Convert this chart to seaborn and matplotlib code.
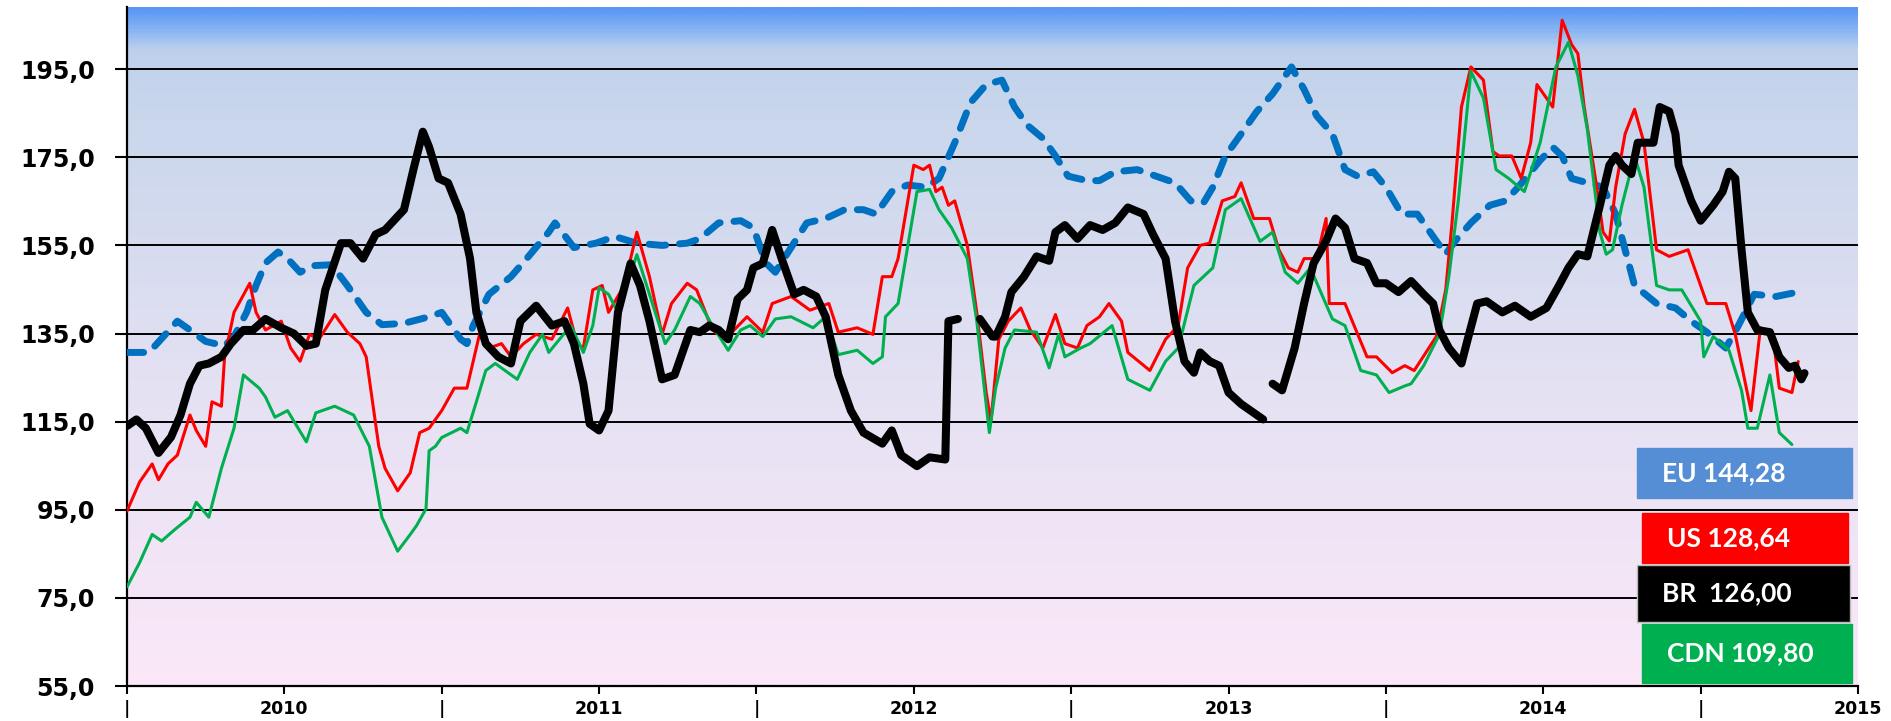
import numpy as np
import pandas as pd
import seaborn as sns
import matplotlib.pyplot as plt
from matplotlib.colors import LinearSegmentedColormap
from matplotlib.patches import Rectangle

#-- Veriler (zaman = ondalik yil)

eu_t = [2009.50, 2009.57, 2009.66, 2009.70, 2009.75, 2009.81, 2009.84, 2009.88, 2009.91, 2009.94,
        2009.98, 2010.01, 2010.05, 2010.09, 2010.15, 2010.20, 2010.26, 2010.31, 2010.38, 2010.46,
        2010.50, 2010.56, 2010.58, 2010.60, 2010.65, 2010.72, 2010.77, 2010.84, 2010.86, 2010.92,
        2010.99, 2011.05, 2011.12, 2011.20, 2011.28, 2011.32, 2011.38, 2011.45, 2011.49, 2011.53,
        2011.56, 2011.61, 2011.66, 2011.72, 2011.78, 2011.84, 2011.88, 2011.93, 2011.98, 2012.04,
        2012.08, 2012.13, 2012.18, 2012.23, 2012.28, 2012.32, 2012.36, 2012.41, 2012.45, 2012.49,
        2012.55, 2012.59, 2012.64, 2012.71, 2012.77, 2012.83, 2012.88, 2012.92, 2012.95, 2012.99,
        2013.04, 2013.09, 2013.14, 2013.20, 2013.24, 2013.28, 2013.33, 2013.37, 2013.41, 2013.46,
        2013.50, 2013.55, 2013.60, 2013.66, 2013.69, 2013.72, 2013.77, 2013.83, 2013.88, 2013.92,
        2013.99, 2014.03, 2014.06, 2014.09, 2014.14, 2014.19, 2014.23, 2014.26, 2014.29, 2014.36,
        2014.42, 2014.47, 2014.52, 2014.58, 2014.62, 2014.67, 2014.74, 2014.80]
eu_v = [130.7, 130.7, 137.8, 135.8, 133.2, 132.2, 134.3, 139.8, 145.9, 151.0,
        153.5, 152.0, 148.9, 150.4, 150.6, 145.9, 139.8, 137.0, 137.3, 138.8,
        139.8, 133.7, 132.7, 136.8, 143.9, 147.9, 152.0, 158.0, 160.1, 154.5,
        155.5, 157.0, 155.5, 155.0, 155.5, 156.5, 160.1, 160.6, 159.0, 151.0,
        148.9, 154.5, 160.1, 161.1, 163.1, 163.1, 162.1, 167.2, 168.7, 168.2,
        170.2, 178.3, 187.4, 191.5, 192.5, 186.4, 182.3, 179.3, 175.3, 170.7,
        169.7, 169.7, 171.7, 172.2, 170.7, 169.2, 165.1, 164.6, 168.2, 175.3,
        180.3, 185.4, 189.4, 195.5, 190.4, 184.4, 180.3, 172.2, 170.7, 171.7,
        168.2, 162.1, 162.1, 156.0, 153.0, 156.0, 160.1, 164.1, 165.1, 168.2,
        174.3, 177.3, 175.3, 170.2, 169.2, 168.2, 162.1, 154.0, 145.9, 141.8,
        140.8, 137.8, 135.3, 131.7, 136.8, 143.9, 143.4, 144.28]

us_t = [2009.50, 2009.54, 2009.58, 2009.60, 2009.63, 2009.66, 2009.70, 2009.72, 2009.75, 2009.77,
        2009.80, 2009.81, 2009.84, 2009.89, 2009.91, 2009.94, 2009.99, 2010.02, 2010.05, 2010.08,
        2010.11, 2010.16, 2010.20, 2010.24, 2010.26, 2010.30, 2010.32, 2010.36, 2010.40, 2010.43,
        2010.46, 2010.50, 2010.54, 2010.58, 2010.61, 2010.62, 2010.65, 2010.69, 2010.72, 2010.76,
        2010.80, 2010.85, 2010.90, 2010.93, 2010.95, 2010.98, 2011.01, 2011.03, 2011.08, 2011.12,
        2011.16, 2011.20, 2011.23, 2011.28, 2011.31, 2011.36, 2011.40, 2011.47, 2011.52, 2011.55,
        2011.61, 2011.67, 2011.73, 2011.76, 2011.82, 2011.87, 2011.90, 2011.93, 2011.95, 2012.00,
        2012.03, 2012.05, 2012.07, 2012.09, 2012.11, 2012.13, 2012.17, 2012.20, 2012.23, 2012.245,
        2012.27, 2012.30, 2012.34, 2012.37, 2012.41, 2012.45, 2012.48, 2012.52, 2012.55, 2012.59,
        2012.62, 2012.66, 2012.68, 2012.75, 2012.80, 2012.84, 2012.87, 2012.91, 2012.94, 2012.98,
        2013.02, 2013.04, 2013.08, 2013.13, 2013.16, 2013.19, 2013.22, 2013.24, 2013.28, 2013.31,
        2013.32, 2013.37, 2013.44, 2013.47, 2013.52, 2013.56, 2013.59, 2013.66, 2013.69, 2013.71,
        2013.74, 2013.77, 2013.81, 2013.84, 2013.86, 2013.90, 2013.93, 2013.96, 2013.98, 2014.03,
        2014.06, 2014.09, 2014.11, 2014.13, 2014.17, 2014.19, 2014.21, 2014.23, 2014.26, 2014.29,
        2014.32, 2014.36, 2014.40, 2014.46, 2014.52, 2014.58, 2014.61, 2014.66, 2014.69, 2014.73,
        2014.75, 2014.79, 2014.81]
us_v = [94.7, 101.3, 105.4, 101.8, 105.4, 107.4, 116.5, 113.0, 109.4, 119.5,
        118.5, 129.7, 139.8, 146.4, 139.8, 135.8, 137.8, 131.7, 128.7, 134.8,
        133.7, 139.3, 135.3, 132.7, 129.7, 109.4, 104.4, 99.3, 103.4, 112.5,
        113.5, 117.5, 122.6, 122.6, 131.7, 134.8, 131.7, 132.7, 129.7, 132.7,
        134.8, 133.7, 140.8, 132.7, 131.7, 144.9, 145.9, 139.8, 145.9, 158.0,
        147.9, 134.8, 141.8, 146.4, 144.9, 135.8, 133.7, 138.8, 135.3, 141.8,
        143.4, 140.3, 141.8, 135.3, 136.3, 134.8, 147.9, 147.9, 152.0, 173.2,
        172.2, 173.2, 167.2, 168.2, 164.1, 165.1, 155.0, 139.8, 121.6, 115.0,
        133.7, 137.8, 140.8, 135.8, 131.7, 139.3, 132.7, 131.7, 136.8, 138.8,
        141.8, 137.8, 130.7, 126.6, 133.7, 136.8, 149.9, 155.0, 155.5, 165.1,
        166.1, 169.2, 161.1, 161.1, 154.0, 149.9, 148.9, 152.0, 152.0, 161.1,
        141.8, 141.8, 129.7, 129.7, 126.1, 127.7, 126.6, 134.3, 144.9, 160.1,
        186.4, 195.5, 192.5, 176.3, 175.3, 175.3, 170.2, 178.3, 191.5, 186.4,
        206.1, 200.6, 198.5, 186.4, 168.2, 158.0, 156.0, 168.2, 180.3, 185.9,
        178.3, 154.0, 152.5, 154.0, 141.8, 141.8, 134.8, 117.5, 136.3, 134.3,
        122.6, 121.6, 128.64]

cdn_t = [2009.50, 2009.54, 2009.58, 2009.61, 2009.65, 2009.70, 2009.72, 2009.76, 2009.80, 2009.84,
         2009.87, 2009.92, 2009.94, 2009.97, 2010.01, 2010.07, 2010.10, 2010.16, 2010.22, 2010.27,
         2010.31, 2010.36, 2010.40, 2010.42, 2010.45, 2010.46, 2010.48, 2010.50, 2010.56, 2010.58,
         2010.61, 2010.64, 2010.67, 2010.74, 2010.78, 2010.82, 2010.84, 2010.91, 2010.95, 2010.98,
         2011.00, 2011.03, 2011.06, 2011.12, 2011.16, 2011.21, 2011.24, 2011.29, 2011.32, 2011.36,
         2011.41, 2011.45, 2011.48, 2011.52, 2011.56, 2011.61, 2011.68, 2011.72, 2011.76, 2011.82,
         2011.87, 2011.90, 2011.91, 2011.95, 2012.01, 2012.05, 2012.08, 2012.12, 2012.17, 2012.20,
         2012.24, 2012.26, 2012.29, 2012.32, 2012.39, 2012.43, 2012.46, 2012.48, 2012.53, 2012.56,
         2012.63, 2012.68, 2012.75, 2012.80, 2012.84, 2012.89, 2012.95, 2012.99, 2013.04, 2013.10,
         2013.14, 2013.18, 2013.22, 2013.26, 2013.29, 2013.33, 2013.37, 2013.42, 2013.47, 2013.51,
         2013.56, 2013.58, 2013.62, 2013.67, 2013.70, 2013.73, 2013.77, 2013.81, 2013.85, 2013.89,
         2013.94, 2013.99, 2014.04, 2014.08, 2014.11, 2014.14, 2014.18, 2014.20, 2014.22, 2014.25,
         2014.29, 2014.32, 2014.36, 2014.40, 2014.44, 2014.50, 2014.51, 2014.54, 2014.59, 2014.63,
         2014.65, 2014.68, 2014.72, 2014.75, 2014.79]
cdn_v = [77.5, 83.0, 89.4, 87.9, 90.4, 93.3, 96.7, 93.3, 104.4, 113.5,
         125.6, 122.6, 120.6, 116.0, 117.5, 110.4, 117.0, 118.5, 116.5, 109.4,
         93.3, 85.6, 89.4, 91.4, 95.2, 108.4, 109.4, 111.4, 113.5, 112.5,
         119.5, 126.6, 128.2, 124.6, 130.7, 134.8, 130.7, 136.8, 130.7, 136.8,
         145.4, 143.9, 139.8, 152.9, 143.9, 132.7, 135.8, 143.4, 141.8, 136.8,
         131.2, 135.8, 136.8, 134.3, 138.3, 138.8, 136.3, 138.8, 130.2, 131.2,
         128.2, 129.7, 138.8, 141.8, 167.2, 167.7, 163.1, 159.0, 152.0, 137.8,
         112.5, 122.6, 131.7, 135.8, 135.3, 127.2, 134.8, 129.7, 131.7, 132.7,
         136.8, 124.6, 122.1, 128.7, 131.7, 145.9, 149.9, 163.1, 165.6, 155.9,
         158.0, 148.9, 146.4, 149.9, 144.9, 138.3, 136.8, 126.6, 125.6, 121.6,
         123.1, 123.6, 127.7, 134.8, 147.9, 165.1, 194.5, 188.4, 172.2, 170.2,
         167.2, 178.3, 195.5, 201.1, 193.5, 181.3, 158.0, 153.0, 154.0, 164.1,
         175.3, 168.2, 145.9, 144.9, 144.9, 137.8, 129.7, 134.3, 131.2, 122.1,
         113.5, 113.5, 125.6, 112.5, 109.8]

# BR serisinde veri bosluklari var (nan)
br_t = [2009.50, 2009.53, 2009.56, 2009.60, 2009.64, 2009.67, 2009.70, 2009.73, 2009.76, 2009.80,
        2009.83, 2009.87, 2009.90, 2009.94, 2009.99, 2010.03, 2010.07, 2010.10, 2010.13, 2010.18,
        2010.21, 2010.25, 2010.29, 2010.32, 2010.38, 2010.41, 2010.44, 2010.46, 2010.49, 2010.52,
        2010.56, 2010.59, 2010.61, 2010.64, 2010.68, 2010.72, 2010.75, 2010.80, 2010.85, 2010.89,
        2010.92, 2010.95, 2010.97, 2011.00, 2011.03, 2011.06, 2011.10, 2011.13, 2011.16, 2011.20,
        2011.24, 2011.29, 2011.32, 2011.35, 2011.38, 2011.41, 2011.44, 2011.47, 2011.49, 2011.52,
        2011.55, 2011.58, 2011.62, 2011.65, 2011.69, 2011.72, 2011.76, 2011.80, 2011.84, 2011.90,
        2011.93, 2011.96, 2012.01, 2012.05, 2012.10, 2012.11, 2012.14, 2012.17, 2012.21, 2012.25,
        2012.26, 2012.29, 2012.31, 2012.35, 2012.39, 2012.43, 2012.45, 2012.48, 2012.52, 2012.56,
        2012.60, 2012.64, 2012.68, 2012.73, 2012.76, 2012.80, 2012.83, 2012.86, 2012.89, 2012.91,
        2012.94, 2012.97, 2013.00, 2013.04, 2013.11, 2013.125, 2013.14, 2013.17, 2013.21, 2013.24,
        2013.27, 2013.31, 2013.34, 2013.37, 2013.40, 2013.44, 2013.47, 2013.50, 2013.54, 2013.58,
        2013.62, 2013.65, 2013.67, 2013.70, 2013.74, 2013.76, 2013.79, 2013.82, 2013.87, 2013.91,
        2013.96, 2014.01, 2014.05, 2014.08, 2014.11, 2014.14, 2014.18, 2014.21, 2014.23, 2014.25,
        2014.28, 2014.30, 2014.35, 2014.37, 2014.40, 2014.42, 2014.43, 2014.47, 2014.50, 2014.54,
        2014.57, 2014.59, 2014.61, 2014.63, 2014.65, 2014.68, 2014.72, 2014.75, 2014.78, 2014.80,
        2014.82, 2014.83]
br_v = [114.0, 115.5, 113.5, 107.9, 111.5, 116.5, 123.6, 127.7, 128.2, 129.7,
        132.7, 135.8, 135.8, 138.3, 136.3, 135.0, 132.2, 132.7, 144.9, 155.5,
        155.5, 152.0, 157.5, 158.5, 163.1, 172.2, 180.8, 177.3, 170.2, 169.2,
        162.1, 152.0, 139.8, 132.7, 129.7, 128.2, 137.8, 141.3, 136.8, 137.8,
        132.7, 123.6, 114.5, 113.0, 117.5, 139.8, 150.9, 145.9, 137.8, 124.6,
        125.6, 135.8, 135.3, 136.8, 135.8, 133.7, 142.8, 144.9, 149.9, 150.9,
        158.5, 152.0, 143.9, 144.9, 143.4, 138.8, 125.6, 117.5, 112.5, 110.0,
        113.0, 107.4, 104.9, 106.9, 106.4, 137.8, 138.3, np.nan, 138.3, 134.3,
        134.3, 138.8, 144.4, 147.9, 152.5, 151.5, 158.0, 159.6, 156.5, 159.6,
        158.5, 160.1, 163.6, 162.1, 157.5, 152.0, 137.8, 128.7, 126.1, 130.7,
        128.7, 127.7, 121.6, 119.0, 115.5, np.nan, 123.6, 122.1, 131.7, 141.8,
        150.9, 156.0, 161.1, 159.0, 152.0, 151.0, 146.4, 146.4, 144.4, 146.9,
        143.9, 141.8, 135.8, 131.7, 128.2, 133.7, 141.8, 142.3, 139.8, 141.3,
        138.8, 140.8, 145.9, 149.9, 153.0, 152.5, 164.1, 173.2, 175.3, 173.2,
        171.2, 178.3, 178.3, 186.4, 185.4, 180.3, 173.2, 165.1, 160.6, 164.1,
        167.2, 171.7, 170.2, 154.0, 139.8, 135.8, 135.3, 129.7, 127.2, 127.7,
        124.6, 126.0]

etiketler = ["EU 144,28", "US 128,64", "BR  126,00", "CDN 109,80"]
renkler = ["#558ED5", "#FF0000", "#000000", "#00B050"]

y_ticks = [55, 75, 95, 115, 135, 155, 175, 195]
x_ticks = [2009.5, 2010, 2010.5, 2011, 2011.5, 2012, 2012.5, 2013, 2013.5, 2014, 2014.5, 2015]
x_labels = ["|", "2010", "|", "2011", "|", "2012", "|", "2013", "|", "2014", "|", "2015"]

#-- Tablolar
eu = pd.DataFrame({"t": eu_t, "v": eu_v})
us = pd.DataFrame({"t": us_t, "v": us_v})
cdn = pd.DataFrame({"t": cdn_t, "v": cdn_v})
br = pd.DataFrame({"t": br_t, "v": br_v})
br["seg"] = br["v"].isna().cumsum()
br = br.dropna()

sns.set_theme(style="white")
plt.rcParams['font.family'] = ['DejaVu Sans']

W, H = 1891, 721
fig = plt.figure(figsize=(W / 100, H / 100), dpi=100)
ax = fig.add_axes([127 / W, 1 - 686 / H, (1858 - 127) / W, (686 - 7) / H])

y_alt, y_ust = 55, 209.1
x_alt, x_ust = 2009.5, 2015.0

# arka plan gecisi (pembe -> acik mavi -> mavi)
cmap = LinearSegmentedColormap.from_list("bg", [
    (0.00, "#FBE8F8"), (0.45, "#E4E1F3"), (0.88, "#C6D5EB"),
    (0.94, "#BDD0EC"), (0.97, "#86B4F3"), (1.00, "#5A97F6")])
grad = np.linspace(0, 1, 400).reshape(-1, 1)
ax.imshow(grad, extent=[x_alt, x_ust, y_alt, y_ust], origin="lower",
          aspect="auto", cmap=cmap, zorder=0)

# seriler
sns.lineplot(data=eu, x="t", y="v", ax=ax, color="#0070C0", lw=5,
             estimator=None, sort=False, zorder=3)
ax.lines[-1].set_dashes([2.4, 2.0])
ax.lines[-1].set_dash_capstyle("round")
sns.lineplot(data=us, x="t", y="v", ax=ax, color="#FF0000", lw=2.2,
             estimator=None, sort=False, zorder=4)
sns.lineplot(data=cdn, x="t", y="v", ax=ax, color="#00B050", lw=2.2,
             estimator=None, sort=False, zorder=5)
sns.lineplot(data=br, x="t", y="v", units="seg", ax=ax, color="black", lw=5.8,
             estimator=None, sort=False, zorder=6)
for ln in ax.lines[-2:]:
    ln.set_solid_capstyle("round")
    ln.set_solid_joinstyle("round")
for ln in ax.lines[1:3]:
    ln.set_solid_joinstyle("round")

ax.set_xlim(x_alt, x_ust)
ax.set_ylim(y_alt, y_ust)
ax.set_xlabel("")
ax.set_ylabel("")

# eksenler ve izgara
ax.set_axisbelow(True)
ax.yaxis.grid(True, color="black", lw=1.4)
ax.xaxis.grid(False)
ax.set_yticks(y_ticks)
ax.set_yticklabels([f"{v},0" for v in y_ticks], fontweight="bold", fontsize=17)
ax.set_xticks(x_ticks)
ax.set_xticklabels(x_labels, fontweight="bold", fontsize=12.5)
ax.tick_params(axis="y", direction="out", length=9, width=1.5, pad=14, colors="black", left=True)
ax.tick_params(axis="x", direction="out", length=6, width=1.5, pad=4, colors="black", bottom=True)
for s in ["top", "right"]:
    ax.spines[s].set_visible(False)
for s in ["left", "bottom"]:
    ax.spines[s].set_color("black")
    ax.spines[s].set_linewidth(1.6)

# deger kutulari (sag alt)
kutular = [(1637, 448, 1852, 498), (1642, 513, 1848, 563),
           (1637, 565, 1850, 622), (1642, 624, 1852, 683)]
for (x0, y0, x1, y1), lab, c in zip(kutular, etiketler, renkler):
    kenar = "#BBBBBB" if c == "#000000" else c
    fig.add_artist(Rectangle((x0 / W, 1 - y1 / H), (x1 - x0) / W, (y1 - y0) / H,
                             transform=fig.transFigure, facecolor=c,
                             edgecolor=kenar, lw=1, zorder=5))
    fig.text((x0 + 25) / W, 1 - (y0 + y1) / 2 / H, lab, color="white",
             fontsize=19, fontweight="bold", family=["Lato", "DejaVu Sans"],
             va="center", ha="left", zorder=6)

fig.savefig("out.png", dpi=100, facecolor="white")
